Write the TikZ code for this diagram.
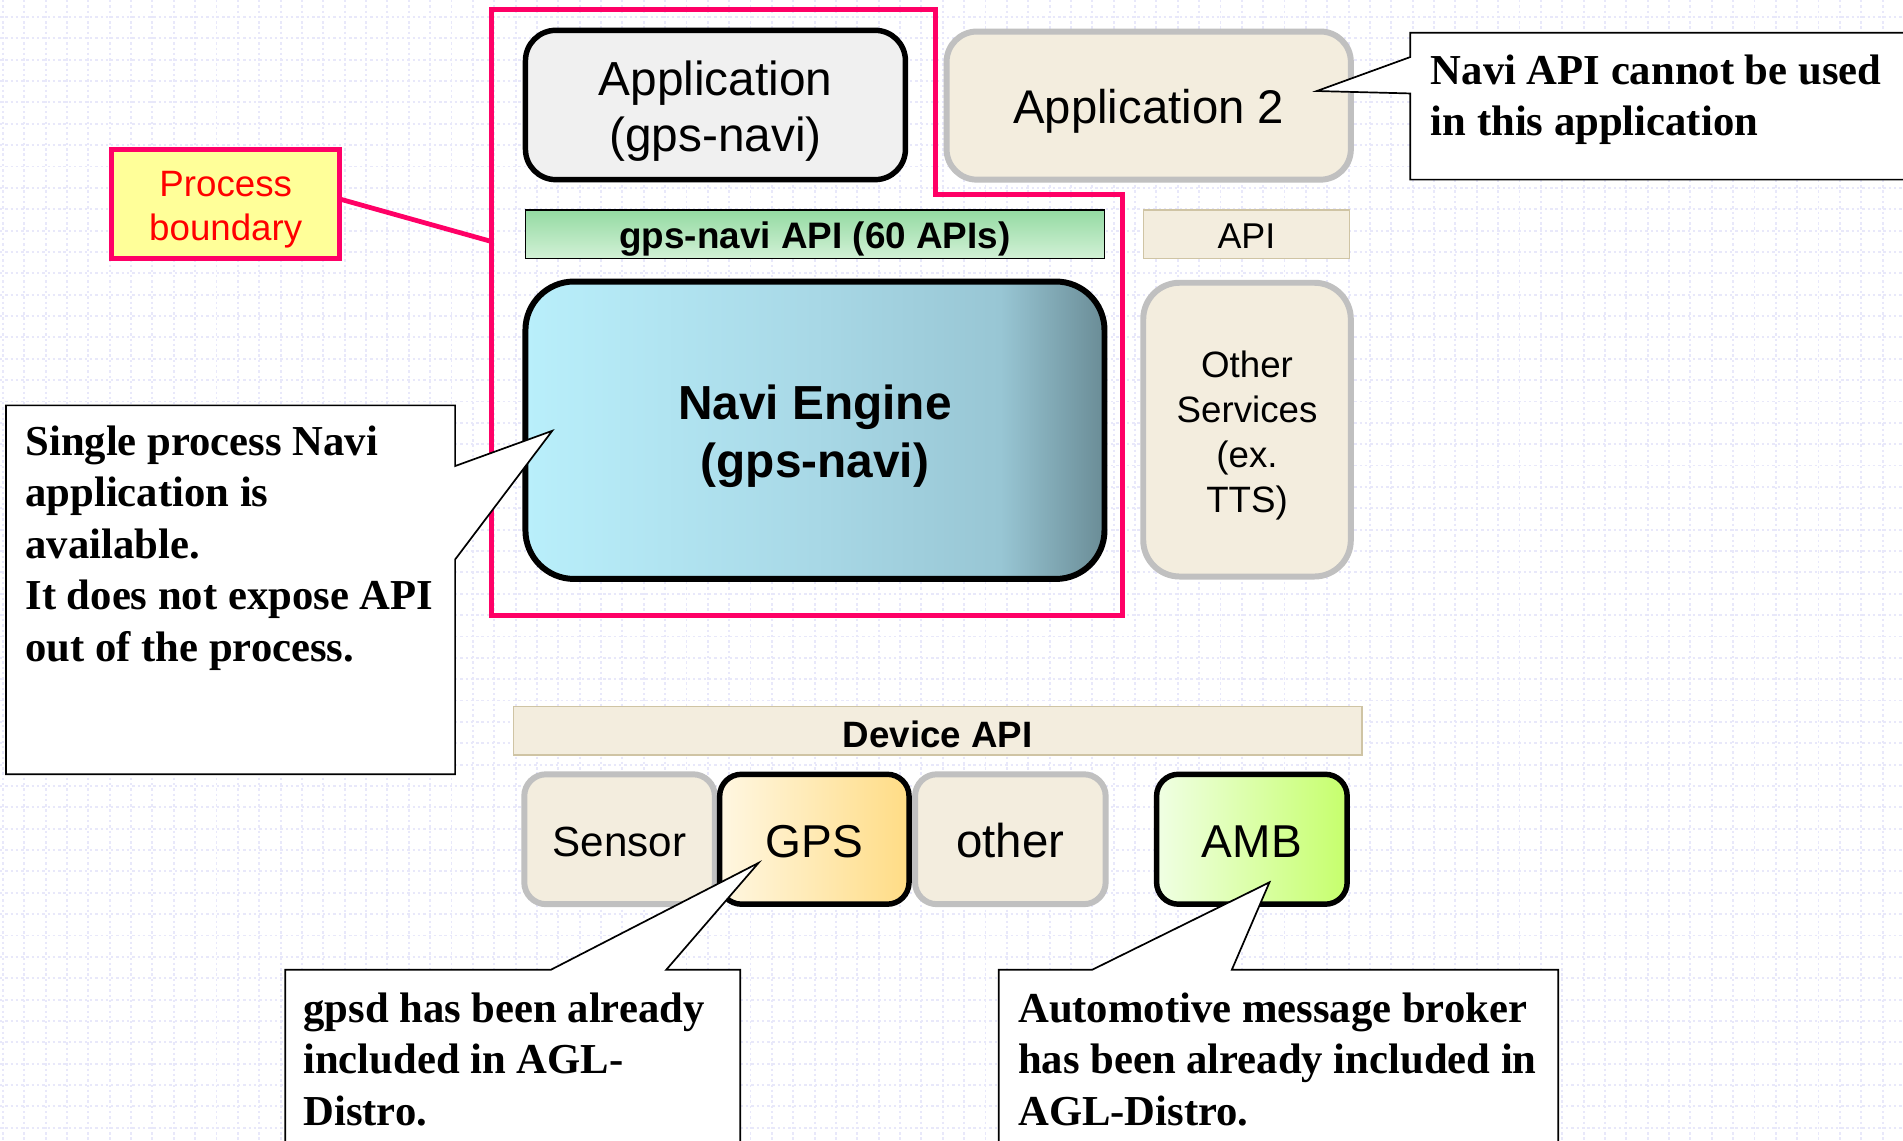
\documentclass[tikz,border=0pt]{standalone}
\usepackage{fontspec}
\setmainfont{Liberation Serif}
\setsansfont{Liberation Sans}
\definecolor{pinkb}{HTML}{FF0066}
\definecolor{yellowl}{HTML}{FFFF99}
\definecolor{appgray}{HTML}{F0F0F0}
\definecolor{beige}{HTML}{F3EDDE}
\definecolor{greyb}{HTML}{C0C0C0}
\definecolor{tanb}{HTML}{CFC4A4}
\definecolor{greenA}{HTML}{94DAA2}
\definecolor{greenB}{HTML}{D2F1D6}
\definecolor{naviA}{HTML}{B9EFFB}
\definecolor{naviB}{HTML}{A8D8E6}
\definecolor{naviC}{HTML}{98C6D4}
\definecolor{naviD}{HTML}{6A8C96}
\definecolor{gpsA}{HTML}{FFF7E2}
\definecolor{gpsB}{HTML}{FFDC85}
\definecolor{ambA}{HTML}{F0FFE4}
\definecolor{ambB}{HTML}{C6FF6C}
\definecolor{gridc}{RGB}{232,232,250}
\pgfdeclarehorizontalshading{navishade}{100bp}{color(0bp)=(naviA); color(25bp)=(naviA); color(50bp)=(naviB); color(66bp)=(naviC); color(75bp)=(naviD); color(100bp)=(naviD)}
\tikzset{
  gridline/.style={draw=gridc, line width=1.1pt, dash pattern=on 1.4pt off 1.7pt},
  topbox/.style={draw=black, line width=3.2pt},
  beigebox/.style={draw=greyb, fill=beige, line width=3.5pt},
  barbox/.style={line width=0.8pt, minimum height=1cm},
  devbox/.style={rounded corners=0.45cm, minimum width=3.925cm, minimum height=2.675cm},
  callout/.style={draw=black, fill=white, line width=1pt},
  calltext/.style={anchor=north west, align=left, font=\rmfamily\bfseries\fontsize{25}{30.1}\selectfont},
  boundary/.style={draw=pinkb, line width=2.8pt},
  txt/.style n args={3}{label={[align=center, yshift=-#1*0.025cm, font=\sffamily#2]center:{#3}}},
}
\begin{document}
\begin{tikzpicture}[x=0.025cm, y=-0.025cm, every node/.style={inner sep=0pt, outer sep=0pt}, every label/.style={inner sep=0pt, outer sep=0pt}]
\useasboundingbox (0,0) rectangle (1568,940);
\clip (0,0) rectangle (1568,940);
\fill[white] (0,0) rectangle (1568,940);
% background grid
\foreach \i in {0,...,89} \draw[gridline] ({2.4+\i*17.6},0) -- ({2.4+\i*17.6},940);
\foreach \j in {0,...,53} \draw[gridline] (0,{14+\j*17.6}) -- (1568,{14+\j*17.6});

% process boundary
\draw[boundary] (405,8) -- (771,8) -- (771,160) -- (925,160) -- (925,507) -- (405,507) -- cycle;
\coordinate (bnd) at (405,199);

% boxes
\node[topbox, fill=appgray, rounded corners=0.625cm, minimum width=7.825cm, minimum height=3.075cm,
  txt={5}{\fontsize{28}{33}\selectfont}{Application\\(gps-navi)}] (app) at (589.5,86.5) {};
\node[beigebox, rounded corners=0.625cm, minimum width=8.325cm, minimum height=3.05cm,
  txt={5}{\fontsize{27.7}{33}\selectfont}{Application 2}] (app2) at (946.5,87) {};
\node[barbox, draw=black, top color=greenA, bottom color=greenB, minimum width=11.925cm,
  txt={4}{\bfseries\fontsize{21.6}{26}\selectfont}{gps-navi API (60 APIs)}] (gapi) at (671.5,193) {};
\node[barbox, draw=tanb, fill=beige, minimum width=4.25cm,
  txt={2}{\fontsize{21}{26}\selectfont}{API}] (api) at (1027,193) {};
\node[draw=black, line width=3.5pt, rounded corners=1cm, shade, shading=navishade, shading angle=0,
  minimum width=11.925cm, minimum height=6.125cm,
  txt={5}{\bfseries\fontsize{28}{34}\selectfont}{Navi Engine\\(gps-navi)}] (navi) at (671.5,354.5) {};
\node[beigebox, rounded corners=0.75cm, minimum width=4.275cm, minimum height=6.05cm,
  txt={5}{\fontsize{21.5}{26.3}\selectfont}{Other\\Services\\(ex.\\TTS)}] (other) at (1027.5,354) {};

% process label
\node[draw=pinkb, fill=yellowl, line width=2.8pt, minimum width=4.7cm, minimum height=2.25cm,
  txt={5}{\color{red}\fontsize{21.5}{25.6}\selectfont}{Process\\boundary}] (plabel) at (186,168) {};
\draw[boundary] ([yshift=0.1cm]plabel.east) -- (bnd);

% device layer
\node[barbox, draw=tanb, fill=beige, minimum width=17.475cm,
  txt={3}{\bfseries\fontsize{21.5}{26}\selectfont}{Device API}] (dapi) at (772.5,602) {};
\node[beigebox, devbox, txt={2}{\fontsize{24.7}{30}\selectfont}{Sensor}] (sensor) at (510.5,691.5) {};
\node[devbox, draw=black, line width=3.2pt, left color=gpsA, right color=gpsB, minimum width=3.9cm,
  txt={2}{\fontsize{27}{32}\selectfont}{GPS}] (gps) at (671,691.5) {};
\node[beigebox, devbox, txt={1}{\fontsize{27.8}{32}\selectfont}{other}] (otherdev) at (832.5,691.5) {};
\node[devbox, draw=black, line width=3.2pt, left color=ambA, right color=ambB,
  txt={2}{\fontsize{27}{32}\selectfont}{AMB}] (amb) at (1031.5,691.5) {};

% callouts
\coordinate (tipL) at (455,355);
\coordinate (tipN) at (1085,75);
\coordinate (tipG) at (625,711);
\coordinate (tipA) at (1046,727);
\draw[callout] (5,334) -- (375,334) -- (375,384) -- (tipL) -- (375,461) -- (375,638) -- (5,638) -- cycle;
\draw[callout] (1162,27) -- (1600,27) -- (1600,148) -- (1162,148) -- (1162,77) -- (tipN) -- (1162,47) -- cycle;
\draw[callout] (235,799) -- (454,799) -- (tipG) -- (549,799) -- (610,799) -- (610,960) -- (235,960) -- cycle;
\draw[callout] (823,799) -- (900,799) -- (tipA) -- (1015,799) -- (1284,799) -- (1284,960) -- (823,960) -- cycle;

\node[calltext] (tL) at (21,351) {Single process Navi\\application is\\available.\\It does not expose API\\out of the process.};
\node[calltext] (tN) at (1179,45) {Navi API cannot be used\\in this application};
\node[calltext] (tG) at (250,818) {gpsd has been already\\included in AGL-\\Distro.};
\node[calltext] (tA) at (839,818) {Automotive message broker\\has been already included in\\AGL-Distro.};
\end{tikzpicture}
\end{document}
